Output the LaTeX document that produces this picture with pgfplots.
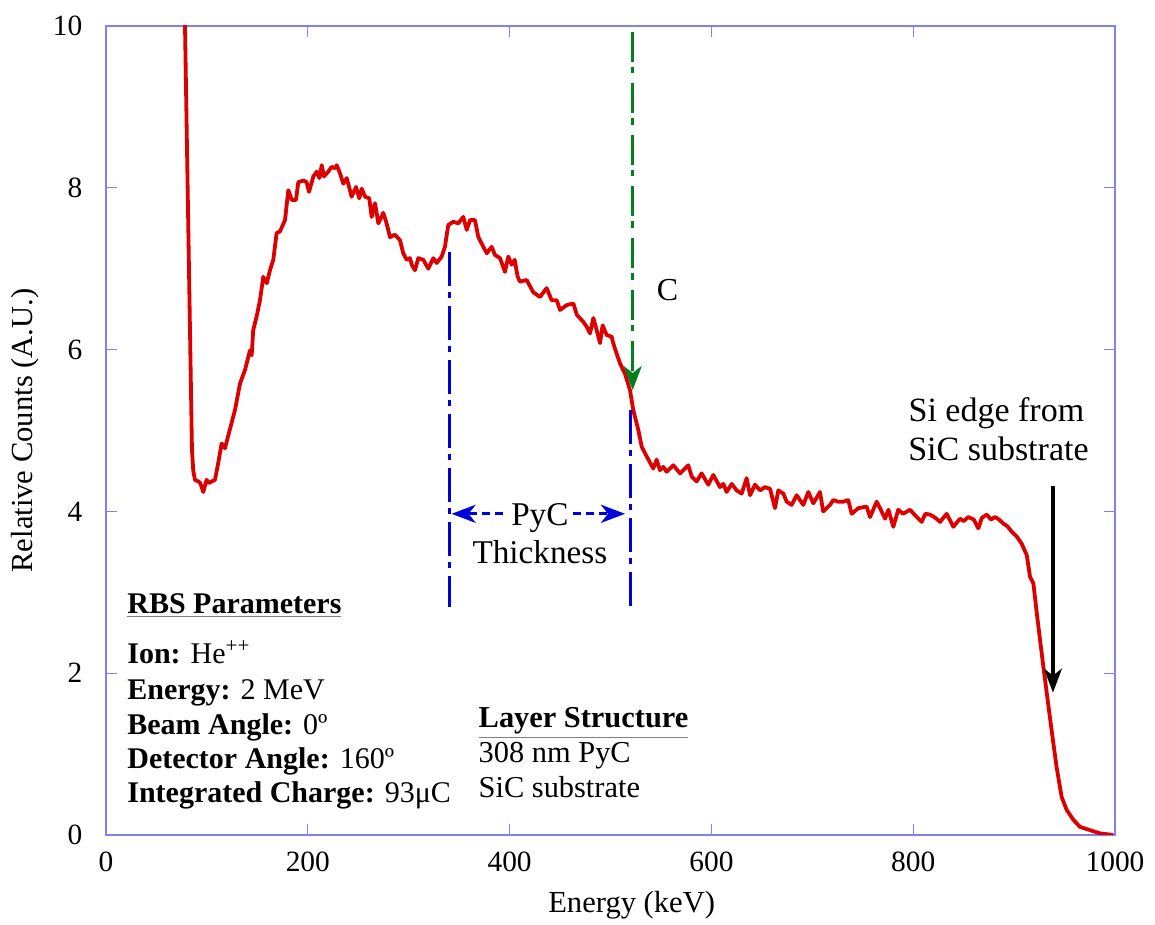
\documentclass[border=0pt]{standalone}
\usepackage{fontspec}
\setmainfont{Liberation Serif}
\usepackage{pgfplots}
\pgfplotsset{compat=1.18}
\usetikzlibrary{arrows.meta}
\definecolor{axblue}{RGB}{128,128,240}
\definecolor{curvered}{RGB}{220,0,0}
\definecolor{dgreen}{RGB}{0,128,30}
\definecolor{lblue}{RGB}{0,0,220}
\newcommand{\fs}{\fontsize{14.7}{17}\selectfont}
\newcommand{\fsa}{\fontsize{15.3}{18}\selectfont}
\newcommand{\fsr}{\fontsize{15}{18}\selectfont}
\newcommand{\fsl}{\fontsize{15.2}{18}\selectfont}
\newcommand{\fsp}{\fontsize{16.6}{19}\selectfont}
\newcommand{\fss}{\fontsize{17}{20}\selectfont}
\newcommand{\gul}[1]{{\color{gray}\underline{\textcolor{black}{#1}}}}
\begin{document}
\begin{tikzpicture}
\begin{axis}[
  name=ax,
  scale only axis, width=504.5pt, height=404.5pt,
  xmin=0, xmax=1000, ymin=0, ymax=10,
  xtick={0,200,...,1000}, ytick={0,2,...,10},
  tick align=inside, major tick length=5.5pt,
  axis line style={axblue, line width=0.6pt},
  every tick/.style={axblue, line width=0.6pt},
  /pgf/number format/assume math mode=true,
  /pgf/number format/1000 sep={},
  tick label style={font=\fs, black},
  xticklabel style={anchor=center, yshift=-13.5pt},
  yticklabel style={anchor=east, xshift=-8.3pt},
  xlabel={Energy (keV)}, ylabel={Relative Counts (A.U.)},
  every axis x label/.style={at={(axis description cs:0.521,-0.0865)}, anchor=center, font=\fsa},
  every axis y label/.style={at={(axis description cs:-0.0803,0.5)}, anchor=center, rotate=90, font=\fsa},
]
\addplot[curvered, line width=1.9pt, line join=round] coordinates {
(77.9,10.5) (78.3,10.0) (80.3,8.47) (82.5,6.8) (85.2,4.76) (86.5,4.50) (88.2,4.39) (91.5,4.37) (93.5,4.35)
(96.4,4.24) (99.7,4.39) (102,4.35) (104.7,4.37) (108,4.39) (111.4,4.61) (114.6,4.84) (117.9,4.78)
(122.9,5.02) (127.8,5.25) (132.8,5.58) (137.8,5.75) (142.7,5.99) (144.4,5.93) (145.9,6.24) (149.3,6.41)
(152.6,6.61) (155.9,6.90) (159.3,6.82) (162.5,6.98) (165.8,7.11) (169.1,7.44) (172.4,7.46) (177.4,7.60)
(180.7,7.97) (184.1,7.85) (188.3,7.85) (190.6,8.07) (195.6,8.09) (198.8,8.07) (201.2,7.95) (205.5,8.14)
(208.9,8.20) (211.5,8.12) (213.8,8.28) (216,8.14) (220.3,8.20) (223.7,8.26) (227,8.24) (228.6,8.28)
(231.9,8.18) (235.2,8.05) (238.6,8.12) (243.4,7.89) (247.8,8.01) (251,7.87) (253.4,7.99) (256.7,7.89)
(260.9,7.87) (263.3,7.64) (266.6,7.81) (269.9,7.56) (274.8,7.69) (278.1,7.56) (281.5,7.39) (286.4,7.42)
(291.4,7.35) (294.6,7.19) (298,7.11) (301.3,7.13) (303,7.05) (306.2,6.98) (309.5,7.13) (314.5,7.11)
(319.4,7.00) (324.4,7.13) (327.7,7.07) (332.7,7.15) (335.9,7.27) (339.2,7.54) (344.2,7.58) (349.1,7.56)
(354.1,7.64) (357.5,7.48) (360.8,7.60) (365.7,7.60) (369,7.39) (374,7.27) (377.3,7.19) (382.2,7.27)
(385.5,7.17) (390.5,7.13) (395.4,6.96) (398.7,7.15) (402,7.05) (405,7.11) (408,6.90) (410.3,6.84)
(416.9,6.86) (423.4,6.71) (430.1,6.65) (436.7,6.76) (441.7,6.61) (446.7,6.61) (450,6.49) (456.6,6.55)
(463.2,6.57) (466.6,6.43) (473.2,6.34) (476.5,6.28) (479.7,6.20) (483,6.39) (486.3,6.24) (489.6,6.08)
(492.2,6.30) (496.2,6.18) (501.1,6.16) (502.7,6.08) (506.1,5.95) (509.4,5.83) (514.4,5.70) (519.3,5.50)
(522.6,5.25) (527.5,5.01) (530.9,4.80) (535.8,4.68) (542.4,4.53) (545.7,4.64) (549,4.51) (552.4,4.55)
(555.7,4.49) (562.3,4.57) (568.9,4.47) (577.1,4.57) (580.5,4.43) (585.4,4.37) (590.3,4.47) (596.9,4.33)
(601.9,4.45) (608.5,4.30) (611.8,4.34) (615.1,4.24) (620.1,4.34) (625,4.26) (630,4.22) (634.9,4.41)
(638.3,4.20) (643.2,4.33) (648.2,4.26) (653.1,4.30) (658.1,4.28) (663,4.04) (666.3,4.26) (671.3,4.22)
(674.6,4.12) (679.5,4.08) (684.5,4.20) (691.1,4.08) (696,4.24) (701,4.10) (707.6,4.24) (710.8,4.00)
(717.5,4.08) (720.8,4.14) (725.7,4.12) (730.7,4.12) (735.6,4.14) (739,3.97) (745.6,4.04) (753.8,4.06)
(757.2,3.93) (763.8,4.12) (767.1,4.04) (772.1,3.91) (775.4,4.02) (780.3,3.81) (785.2,4.02) (790,3.97)
(796.8,4.02) (802,3.95) (808.4,3.87) (812,3.97) (816.7,3.96) (822,3.92) (826.6,3.87) (833.2,3.97)
(839.8,3.81) (846.4,3.91) (850,3.88) (854.6,3.93) (860,3.90) (864.5,3.79) (868,3.92) (872.9,3.96)
(877,3.90) (881.1,3.93) (885,3.90) (889.3,3.85) (893,3.82) (897.6,3.75) (902.6,3.69) (907.5,3.60)
(912.5,3.46) (915.8,3.19) (919.1,3.11) (922.5,2.74) (925.7,2.41) (929,2.08) (932.4,1.75) (937.1,1.30)
(942.1,0.84) (947.1,0.47) (952.1,0.31) (958.6,0.19) (965.3,0.10) (975.2,0.06) (985.1,0.02) (998.3,0.00)
};
% green C arrow
\draw[dgreen, line width=1.7pt, dash pattern=on 15pt off 2.5pt on 3.3pt off 5pt,
  -{Stealth[length=12pt,width=9pt,inset=3.5pt]}] (axis cs:522,9.93) -- (axis cs:522,5.50);
\node[font=\fontsize{16}{19}\selectfont, anchor=base, inner sep=0] at (axis cs:556.5,6.61) {C};
% PyC thickness markers
\draw[lblue, line width=1.7pt, dash pattern=on 17pt off 3pt on 3pt off 4pt] (axis cs:340.2,7.21) -- (axis cs:340.2,2.82);
\draw[lblue, line width=1.7pt, dash pattern=on 17pt off 3pt on 3pt off 4pt] (axis cs:520,5.25) -- (axis cs:520,2.82);
\draw[lblue, line width=1.6pt, dash pattern=on 4pt off 2.5pt,
  -{Stealth[length=12pt,width=9pt,inset=3.5pt]}] (axis cs:393,3.97) -- (axis cs:342.5,3.97);
\draw[lblue, line width=1.6pt, dash pattern=on 4pt off 2.5pt,
  -{Stealth[length=12pt,width=9pt,inset=3.5pt]}] (axis cs:462.5,3.97) -- (axis cs:514.4,3.97);
\node[font=\fsp, anchor=base, inner sep=0] at (axis cs:430,3.83) {PyC};
\node[font=\fsp, anchor=base, inner sep=0] at (axis cs:430,3.36) {Thickness};
% Si edge
\draw[black, line width=1.7pt, -{Stealth[length=12pt,width=9pt,inset=3.5pt]}] (axis cs:938.5,4.31) -- (axis cs:938.5,1.76);
\node[font=\fss, anchor=base, inner sep=0] at (axis cs:882.5,5.11) {Si edge from};
\node[font=\fss, anchor=base, inner sep=0] at (axis cs:884.5,4.635) {SiC substrate};
% RBS parameters
\node[font=\fsr, anchor=base west, inner sep=0] at (axis cs:20.8,2.744) {\gul{\textbf{RBS Parameters}}};
\node[font=\fsr, anchor=base west, inner sep=0] at (axis cs:20.8,2.126) {\textbf{Ion:} He\textsuperscript{++}};
\node[font=\fsr, anchor=base west, inner sep=0] at (axis cs:20.8,1.681) {\textbf{Energy:} 2 MeV};
\node[font=\fsr, anchor=base west, inner sep=0] at (axis cs:20.8,1.248) {\textbf{Beam Angle:} 0º};
\node[font=\fsr, anchor=base west, inner sep=0] at (axis cs:20.8,0.824) {\textbf{Detector Angle:} 160º};
\node[font=\fsr, anchor=base west, inner sep=0] at (axis cs:20.8,0.40) {\textbf{Integrated Charge:} 93μC};
% Layer structure
\node[font=\fsl, anchor=base west, inner sep=0] at (axis cs:369,1.326) {\gul{\textbf{Layer Structure}}};
\node[font=\fsl, anchor=base west, inner sep=0] at (axis cs:369,0.894) {308 nm PyC};
\node[font=\fsl, anchor=base west, inner sep=0] at (axis cs:369,0.466) {SiC substrate};
\end{axis}
\pgfresetboundingbox
\useasboundingbox ([xshift=-53pt,yshift=-45pt]ax.south west) rectangle ([xshift=20pt,yshift=13pt]ax.north east);
\end{tikzpicture}
\end{document}
